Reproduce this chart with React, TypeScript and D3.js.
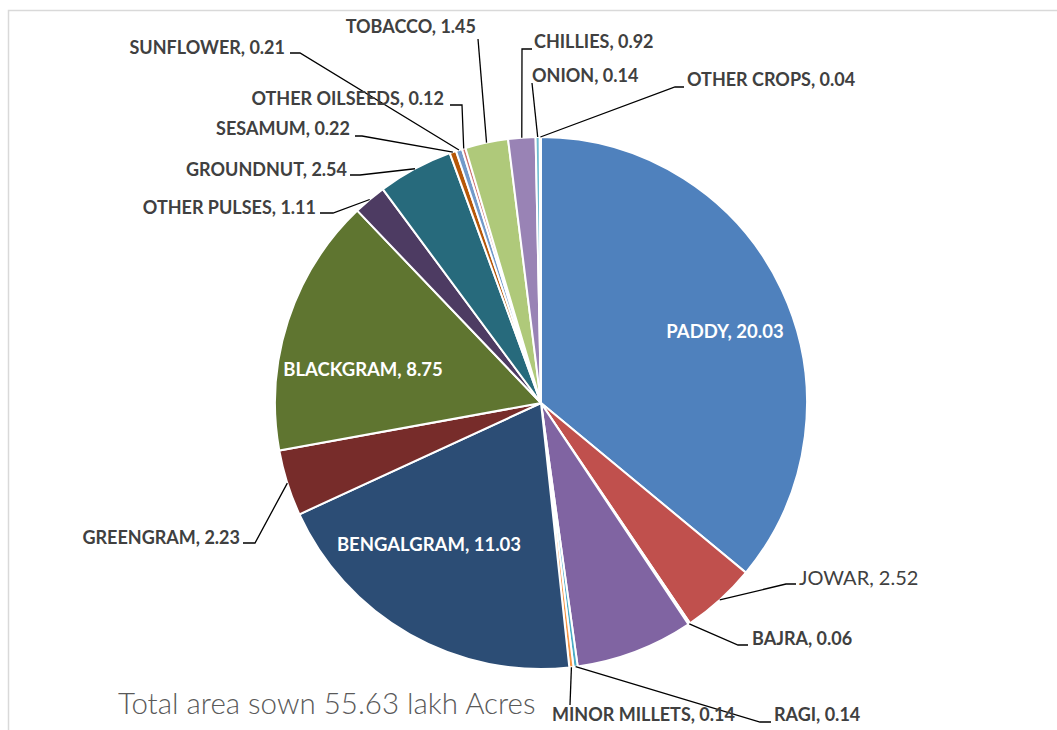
import * as d3 from "d3";

// area sown, lakh acres (clockwise from 12 o'clock)
const crops = [
  "PADDY", "JOWAR", "BAJRA", "MAIZE", "RAGI", "MINOR MILLETS",
  "BENGALGRAM", "GREENGRAM", "BLACKGRAM", "OTHER PULSES", "GROUNDNUT",
  "SESAMUM", "SUNFLOWER", "OTHER OILSEEDS", "TOBACCO", "CHILLIES",
  "ONION", "OTHER CROPS",
];
const areas = [
  20.03, 2.52, 0.06, 3.98, 0.14, 0.14,
  11.03, 2.23, 8.75, 1.11, 2.54,
  0.22, 0.21, 0.12, 1.45, 0.92,
  0.14, 0.04,
];
const colors = [
  "#4F81BD", "#C0504D", "#9BBB59", "#8064A2", "#4BACC6", "#F79646",
  "#2C4D75", "#772C2A", "#5F7530", "#4D3B62", "#276A7C", "#B65708",
  "#729ACA", "#CD7371", "#AFC97A", "#9983B5", "#6FBDD1", "#F9AB6B",
];
const title = "Total area sown 55.63 lakh Acres";

const W = 1057;
const H = 730;
const cx = 541;
const cy = 403;
const R = 266;

// manual label placement (like the hand-dragged labels in the original)
type Lab = {
  x: number; y: number; anchor: "start" | "end" | "middle";
  inside?: boolean; big?: boolean; path?: [number, number][];
};
const labelLayout: Record<string, Lab> = {
  PADDY: { x: 725, y: 332, anchor: "middle", inside: true },
  BENGALGRAM: { x: 429, y: 545, anchor: "middle", inside: true },
  BLACKGRAM: { x: 363, y: 370, anchor: "middle", inside: true },
  JOWAR: { x: 799, y: 578, anchor: "start", big: true, path: [[786, 584], [796, 584]] },
  BAJRA: { x: 752, y: 639, anchor: "start", path: [[738, 645], [748, 645]] },
  RAGI: { x: 774, y: 715, anchor: "start", path: [[760, 722], [771, 722]] },
  "MINOR MILLETS": { x: 552, y: 715, anchor: "start", path: [[570, 705]] },
  GREENGRAM: { x: 240, y: 538, anchor: "end", path: [[255, 543], [243, 543]] },
  "OTHER PULSES": { x: 316, y: 208, anchor: "end", path: [[333, 213], [320, 213]] },
  GROUNDNUT: { x: 347, y: 170, anchor: "end", path: [[360, 175], [350, 175]] },
  SESAMUM: { x: 350, y: 129, anchor: "end", path: [[362, 136], [355, 136]] },
  SUNFLOWER: { x: 285, y: 48, anchor: "end", path: [[300, 53], [290, 53]] },
  "OTHER OILSEEDS": { x: 444, y: 99, anchor: "end", path: [[462, 105], [450, 105]] },
  TOBACCO: { x: 476, y: 27, anchor: "end", path: [[478, 39]] },
  CHILLIES: { x: 534, y: 42, anchor: "start", path: [[522, 49], [532, 49]] },
  ONION: { x: 532, y: 76, anchor: "start", path: [[532, 83]] },
  "OTHER CROPS": { x: 687, y: 80, anchor: "start", path: [[675, 87], [684, 87]] },
};

export default function App() {
  const rows = crops.map((name, i) => ({ name, value: areas[i], color: colors[i] }));
  const pie = d3.pie<typeof rows[number]>().value((d) => d.value).sort(null);
  const arcs = pie(rows);
  const arc = d3.arc<d3.PieArcDatum<typeof rows[number]>>().innerRadius(0).outerRadius(R);
  const line = d3.line();

  return (
    <svg width={W} height={H} style={{ position: "absolute", left: 0, top: 0 }}
      fontFamily="Lato, 'Open Sans', sans-serif">
      <rect width={W} height={H} fill="#fff" />
      <path d={`M8.5,${H} V10.5 H${W}`} fill="none" stroke="#D9D9D9" strokeWidth={1.5} />
      <g transform={`translate(${cx},${cy})`}>
        {arcs.map((a) => (
          <path key={a.data.name} d={arc(a) || ""} fill={a.data.color} stroke="#fff" strokeWidth={2} />
        ))}
      </g>
      {arcs.map((a) => {
        const lab = labelLayout[a.data.name];
        if (!lab || lab.inside || !lab.path) return null;
        const mid = (a.startAngle + a.endAngle) / 2;
        const p: [number, number] = [cx + R * Math.sin(mid), cy - R * Math.cos(mid)];
        return (
          <path key={a.data.name} d={line([p, ...lab.path]) || ""} fill="none" stroke="#000" strokeWidth={1.3} />
        );
      })}
      {arcs.map((a) => {
        const lab = labelLayout[a.data.name];
        if (!lab) return null;
        return (
          <text key={a.data.name} x={lab.x} y={lab.y} dy="0.35em" textAnchor={lab.anchor}
            fontSize={lab.big ? 20 : lab.inside ? 18.5 : 18}
            fontWeight={lab.big ? 400 : 700}
            fill={lab.inside ? "#fff" : "#404040"}>
            {`${a.data.name}, ${d3.format(".2f")(a.data.value)}`}
          </text>
        );
      })}
      <text x={118} y={714} fontSize={29.5} fontWeight={300} fill="#595959">{title}</text>
    </svg>
  );
}
